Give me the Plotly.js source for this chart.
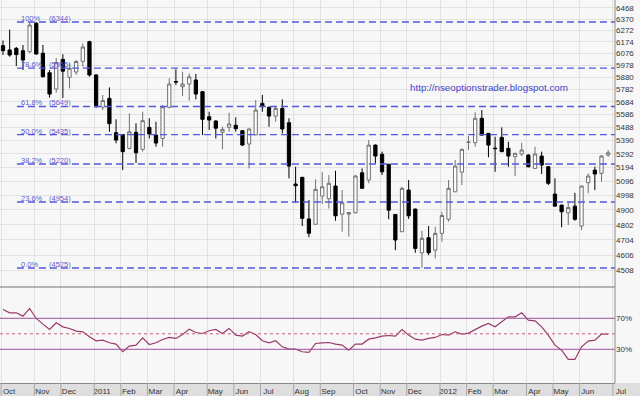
<!DOCTYPE html>
<html><head><meta charset="utf-8">
<script src="https://cdn.plot.ly/plotly-3.0.1.min.js"></script>
<style>html,body{margin:0;padding:0;background:#f7f7f7}#chart{width:640px;height:396px}</style>
</head><body><div id="chart"></div>
<script>
const weekDates = ['2010-09-27','2010-10-04','2010-10-11','2010-10-18','2010-10-25','2010-11-01','2010-11-08','2010-11-15','2010-11-22','2010-11-29','2010-12-06','2010-12-13','2010-12-20','2010-12-27',
'2011-01-03','2011-01-10','2011-01-17','2011-01-24','2011-01-31','2011-02-07','2011-02-14','2011-02-21','2011-02-28','2011-03-07','2011-03-14','2011-03-21','2011-03-28','2011-04-04','2011-04-11','2011-04-18','2011-04-25','2011-05-02','2011-05-09','2011-05-16','2011-05-23','2011-05-30','2011-06-06','2011-06-13','2011-06-20','2011-06-27','2011-07-04','2011-07-11','2011-07-18','2011-07-25','2011-08-01','2011-08-08','2011-08-15','2011-08-22','2011-08-29','2011-09-05','2011-09-12','2011-09-19','2011-09-26','2011-10-03','2011-10-10','2011-10-17','2011-10-24','2011-10-31','2011-11-07','2011-11-14','2011-11-21','2011-11-28','2011-12-05','2011-12-12','2011-12-19','2011-12-26',
'2012-01-02','2012-01-09','2012-01-16','2012-01-23','2012-01-30','2012-02-06','2012-02-13','2012-02-20','2012-02-27','2012-03-05','2012-03-12','2012-03-19','2012-03-26','2012-04-02','2012-04-09','2012-04-16','2012-04-23','2012-04-30','2012-05-07','2012-05-14','2012-05-21','2012-05-28','2012-06-04','2012-06-11','2012-06-18','2012-06-25'];

const openP  = [6141,6105,6119,6099,6091,6333,6078,5917,5786,6027,5880,5923,6010,6175,5899,5644,5712,5449,5435,5333,5452,5326,5489,5431,5406,5642,5846,5804,5826,5858,5765,5570,5537,5452,5489,5505,5464,5365,5433,5673,5642,5575,5634,5524,5078,5125,4840,4805,4995,4976,5064,4872,4872,4881,5157,5106,5357,5290,5218,4870,4756,5036,4906,4620,4717,4637,4745,4838,5024,5162,5376,5374,5558,5444,5335,5414,5333,5272,5292,5284,5188,5277,5200,5008,4933,4881,4926,4793,5087,5176,5153,5284];
const highP  = [6185,6278,6130,6147,6338,6344,6147,5939,6038,6069,5994,6021,6160,6183,5905,5739,5799,5550,5440,5596,5520,5608,5558,5532,5660,5872,5945,5925,5912,5907,5770,5608,5545,5494,5600,5565,5469,5480,5699,5739,5650,5652,5704,5558,5200,5127,4967,5111,5164,5141,5171,5036,4885,5141,5188,5394,5362,5309,5220,4872,5059,5106,4910,4762,4793,4788,4888,5106,5248,5330,5424,5604,5621,5447,5419,5489,5381,5300,5374,5290,5345,5309,5203,5118,4935,4955,5017,5066,5153,5200,5284,5321];
const lowP   = [6063,6049,5972,5939,6080,6067,5878,5718,5757,5715,5791,5899,5966,5885,5640,5621,5456,5370,5176,5325,5227,5309,5406,5345,5345,5635,5818,5730,5694,5704,5431,5469,5406,5326,5456,5456,5353,5188,5430,5608,5494,5532,5444,5118,4949,4793,4720,4803,4940,4910,4828,4756,4724,4878,5045,5083,5225,5141,4838,4637,4753,4840,4620,4525,4605,4585,4691,4822,5022,5071,5321,5345,5428,5268,5164,5305,5200,5134,5277,5196,5185,5148,5071,4924,4785,4800,4828,4767,5013,5036,5094,5272];
const closeP = [6099,6063,6066,6021,6318,6071,5885,5746,6000,5930,5953,6009,6130,5899,5647,5695,5517,5394,5309,5456,5301,5540,5439,5372,5647,5826,5842,5826,5884,5746,5550,5545,5483,5474,5515,5479,5357,5477,5621,5647,5575,5634,5477,5205,5066,4844,4746,5041,5059,5083,4861,4949,4883,5134,5048,5357,5277,5164,4899,4702,5048,4861,4648,4713,4620,4745,4863,5048,5205,5326,5379,5558,5431,5357,5331,5309,5277,5297,5321,5200,5292,5212,5083,4926,4888,4917,4838,5064,5134,5148,5277,5301];

const rsiValues = [81.4,77.1,77.1,72.8,82.7,69.8,62.5,55.6,64.2,59.0,56.9,53.4,52.6,46.1,41.0,41.8,38.4,36.7,26.8,34.1,35.4,44.8,36.2,38.4,42.7,45.3,44.0,49.1,56.0,51.7,50.4,53.9,55.6,50.4,56.9,48.3,47.0,52.6,49.1,41.0,38.4,41.0,33.2,30.2,30.2,26.8,25.9,37.5,38.4,38.8,36.7,35.4,28.9,36.7,36.7,43.1,44.8,47.0,47.8,47.0,55.6,48.3,43.1,41.8,44.0,45.3,49.1,48.3,52.6,49.6,50.9,55.6,59.9,63.3,59.0,65.5,71.9,71.9,77.1,67.6,66.8,59.0,48.3,35.4,28.9,16.9,16.9,33.2,40.5,41.8,49.6,49.6];

const fibHigh = 6344, fibLow = 4525;
const fibRatios = [1, 0.786, 0.618, 0.5, 0.382, 0.236, 0];
const fibNames = ['100%', '78.6%', '61.8%', '50.0%', '38.2%', '23.6%', '0.0%'];
const fibStart = '2010-10-11 16:00';

const priceTicks = [4508,4606,4704,4802,4900,4998,5096,5194,5292,5390,5488,5586,5684,5782,5880,5978,6076,6174,6272,6370,6468];
const monthTickDates = ['2010-09-25','2010-10-30','2010-11-27','2011-01-01','2011-01-29','2011-02-26','2011-03-26','2011-04-30','2011-05-28','2011-06-25','2011-07-30','2011-08-27','2011-10-01','2011-10-29','2011-11-26','2011-12-31','2012-01-28','2012-02-25','2012-03-31','2012-04-28','2012-05-26','2012-06-30'];
const monthTickLabels = ['Oct','Nov','Dec','2011','Feb','Mar','Apr','May','Jun','Jul','Aug','Sep','Oct','Nov','Dec','2012','Feb','Mar','Apr','May','Jun','Jul'];
const rsiTickVals = [30, 70];
const rsiTickText = ['30%', '70%'];
const watermark = 'http://nseoptionstrader.blogspot.com';

const xRange = ['2010-09-23 20:00', '2012-07-02 05:00'];
const split = 96 / 383;
const bandH = 13 / 383;
const fibColor = '#5555dd';
const fibTextColor = '#5c5ccf';
const font = 'Liberation Sans, Arial, sans-serif';

const fibLevels = fibRatios.map(r => Math.round(fibLow + r * (fibHigh - fibLow)));

const traces = [];
fibLevels.forEach(lv => {
  traces.push({type:'scatter', mode:'lines', x:[fibStart, xRange[1]], y:[lv, lv],
    line:{color:fibColor, width:1.4, dash:'7px,4px'}, hoverinfo:'skip', showlegend:false, xaxis:'x', yaxis:'y'});
});
traces.push({type:'candlestick', x:weekDates, open:openP, high:highP, low:lowP, close:closeP,
  increasing:{line:{color:'#707070', width:1}, fillcolor:'#ffffff'},
  decreasing:{line:{color:'#000000', width:1}, fillcolor:'#000000'},
  whiskerwidth:0, hoverinfo:'skip', showlegend:false, xaxis:'x', yaxis:'y'});
traces.push({type:'scatter', mode:'lines', x:weekDates, y:rsiValues,
  line:{color:'#9a3a6e', width:1.2}, hoverinfo:'skip', showlegend:false, xaxis:'x', yaxis:'y2'});

const annotations = [];
fibLevels.forEach((lv, k) => {
  annotations.push({xref:'paper', yref:'y', x:20/615, y:Math.log10(lv), xanchor:'left', yanchor:'bottom',
    text:fibNames[k], showarrow:false, font:{family:font, size:7.5, color:fibTextColor}, yshift:-2, borderpad:0});
  annotations.push({xref:'paper', yref:'y', x:48/615, y:Math.log10(lv), xanchor:'left', yanchor:'bottom',
    text:'(' + lv + ')', showarrow:false, font:{family:font, size:7.5, color:fibTextColor}, yshift:-2, borderpad:0});
});
annotations.push({xref:'paper', yref:'paper', x:489/615, y:(383-87)/383, xanchor:'center', yanchor:'middle',
  text:watermark, showarrow:false, font:{family:font, size:9.8, color:'#4444cc'}});

const shapes = [
  {type:'rect', xref:'paper', yref:'paper', x0:0, x1:1.05, y0:-bandH, y1:0, fillcolor:'#dedede', line:{width:0}, layer:'below'},
  {type:'line', xref:'paper', yref:'y2', x0:0, x1:1, y0:70, y1:70, line:{color:'#a0509a', width:1}},
  {type:'line', xref:'paper', yref:'y2', x0:0, x1:1, y0:30, y1:30, line:{color:'#a0509a', width:1}},
  {type:'line', xref:'paper', yref:'y2', x0:0, x1:1, y0:50, y1:50, line:{color:'#c8607a', width:1, dash:'dot'}},
  {type:'line', xref:'paper', yref:'paper', x0:0, x1:1, y0:split, y1:split, line:{color:'#707070', width:1}},
  {type:'line', xref:'paper', yref:'paper', x0:1, x1:1, y0:0, y1:1, line:{color:'#8a8a8a', width:1}}
];
monthTickDates.forEach(d => {
  shapes.push({type:'line', xref:'x', yref:'paper', x0:d, x1:d, y0:-bandH, y1:0, line:{color:'#a8a8a8', width:1}});
});

const layout = {
  width:640, height:396,
  margin:{l:0, r:25, t:0, b:13, pad:0},
  paper_bgcolor:'#f7f7f7', plot_bgcolor:'#f7f7f7',
  showlegend:false, hovermode:false,
  font:{family:font, size:8, color:'#333'},
  xaxis:{type:'date', range:xRange, anchor:'y2', tickmode:'array', tickvals:monthTickDates, ticktext:monthTickLabels,
    showgrid:true, gridcolor:'#e2e2e2', gridwidth:1, ticks:'', ticklabelshift:8,
    tickfont:{family:font, size:8, color:'#333'}, rangeslider:{visible:false},
    showline:true, linecolor:'#888', zeroline:false, fixedrange:true},
  yaxis:{type:'log', domain:[split, 1], range:[3.64424, 3.81551], side:'right', anchor:'x',
    tickmode:'array', tickvals:priceTicks, ticktext:priceTicks.map(String),
    showgrid:true, gridcolor:'#e2e2e2', gridwidth:1, ticks:'', zeroline:false,
    tickfont:{family:font, size:8, color:'#333'}, fixedrange:true},
  yaxis2:{domain:[0, split], range:[-13.5, 110.4], side:'right', anchor:'x',
    tickmode:'array', tickvals:rsiTickVals, ticktext:rsiTickText,
    showgrid:false, ticks:'', zeroline:false, tickfont:{family:font, size:8, color:'#333'}, fixedrange:true},
  annotations:annotations,
  shapes:shapes
};

Plotly.newPlot('chart', traces, layout, {staticPlot:true, displayModeBar:false});
</script>
</body></html>
